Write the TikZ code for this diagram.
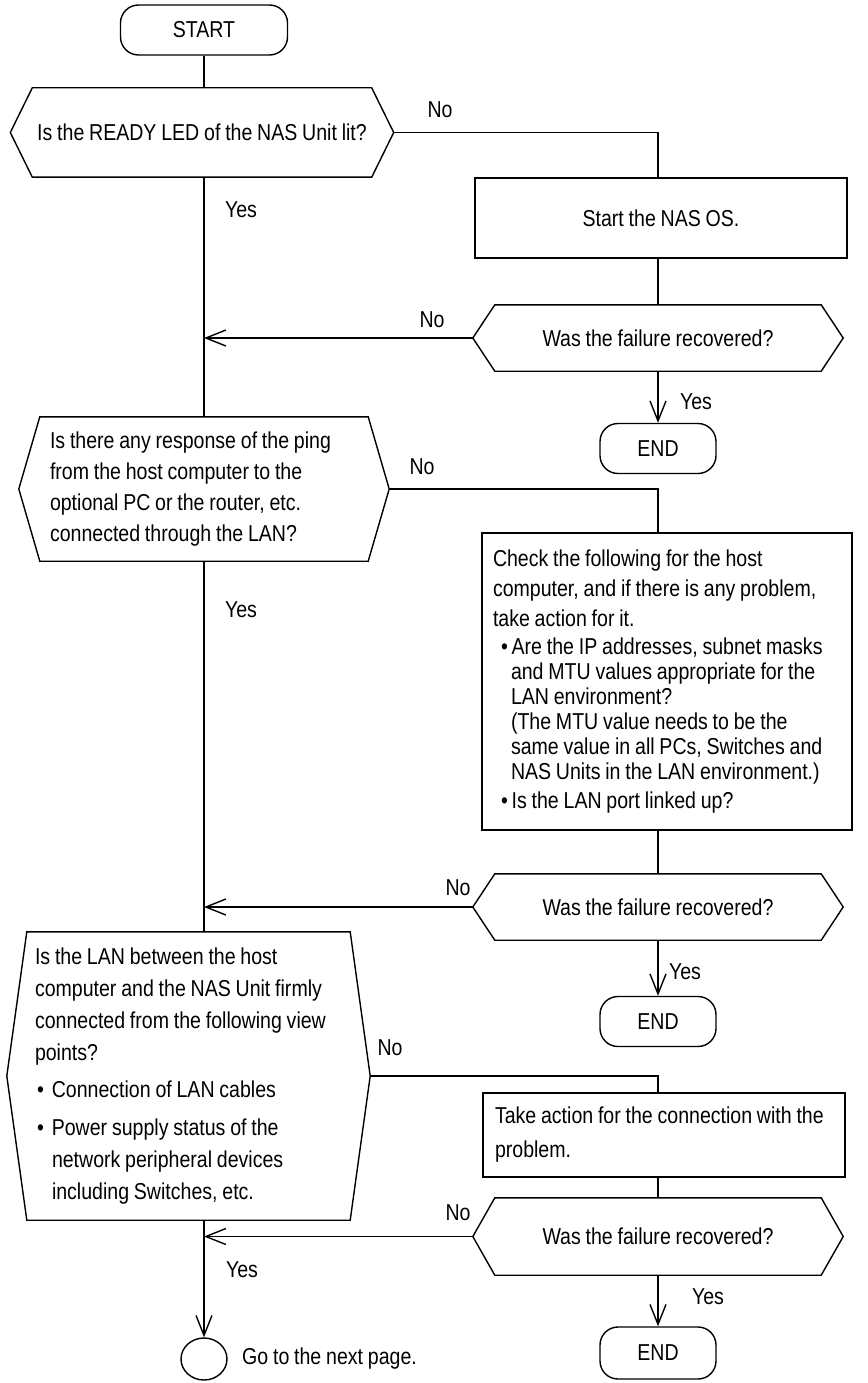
\documentclass[tikz,border=0pt]{standalone}
\usepackage{fontspec}
\setmainfont{Liberation Sans}[FakeStretch=0.85]
\usetikzlibrary{arrows.meta,shapes.geometric}

% node font: size 23pt, baseline skip #1
\newcommand{\chartfont}[1]{\fontsize{23pt}{#1}\selectfont\spaceskip=4.8pt plus 1pt minus 1pt\xspaceskip=4.8pt\relax}

\tikzset{
    line/.style={line width=1.4pt},
    arr/.style={line, -{Straight Barb[length=20pt,width=16pt]}},
    every node/.style={font=\chartfont{26pt}},
    terminal/.style={draw, line width=1.4pt, rectangle, rounded corners=18pt,
        minimum width=116pt, minimum height=50pt},
    process/.style={draw, line width=1.4pt, rectangle},
    decision/.style={rectangle, inner ysep=0pt},
    lab/.style={inner sep=0pt},
}

% hexagon round a decision node: name, inset of the top corners
\newcommand{\hexframe}[2]{%
    \draw[line] (#1.west) -- ([xshift=#2]#1.north west) -- ([xshift=-#2]#1.north east)
        -- (#1.east) -- ([xshift=-#2]#1.south east) -- ([xshift=#2]#1.south west) -- cycle;}

\begin{document}
\begin{tikzpicture}[x=1pt, y=-1pt]
    \useasboundingbox (0,0) rectangle (867,1383);

    \node[terminal, minimum width=167pt] (start) at (204,30) {START};

    \node[decision, minimum width=383pt, minimum height=89pt] (d1) at (202,132.5)
        {Is the READY LED of the NAS Unit lit?};
    \hexframe{d1}{22pt}

    \node[process, minimum width=372pt, minimum height=80pt] (nasos) at (661,218) {Start the NAS OS.};

    \node[decision, minimum width=370pt, minimum height=66pt] (d2) at (658,338) {Was the failure recovered?};
    \hexframe{d2}{22pt}

    \node[terminal] (end1) at (658,448.5) {END};

    \node[decision, text width=308pt, inner xsep=31pt, minimum height=144pt, align=flush left,
        font=\chartfont{31pt}] (d3) at (204,489)
        {Is there any response of the ping\\from the host computer to the\\optional PC or the router, etc.\\connected through the LAN?};
    \hexframe{d3}{21pt}

    \node[process, text width=348pt, inner xsep=11pt, minimum height=297pt, align=flush left,
        font=\chartfont{25pt}] (check) at (667,681.5)
        {Check the following for the host\\[5pt]
         computer, and if there is any problem,\\[5pt]
         take action for it.\\[3pt]
         \hspace*{8pt}\textbullet\,Are the IP addresses, subnet masks\\
         \hspace*{18pt}and MTU values appropriate for the\\
         \hspace*{18pt}LAN environment?\\
         \hspace*{18pt}(The MTU value needs to be the\\
         \hspace*{18pt}same value in all PCs, Switches and\\
         \hspace*{18pt}NAS Units in the LAN environment.)\\[4pt]
         \hspace*{8pt}\textbullet\,Is the LAN port linked up?};

    \node[decision, minimum width=370pt, minimum height=66pt] (d4) at (658,907) {Was the failure recovered?};
    \hexframe{d4}{22pt}

    \node[terminal] (end2) at (658,1021.5) {END};

    \node[decision, text width=307pt, inner xsep=28pt, minimum height=288pt, align=flush left,
        font=\chartfont{32pt}] (d5) at (188.5,1076)
        {Is the LAN between the host\\
         computer and the NAS Unit firmly\\
         connected from the following view\\
         points?\\[5pt]
         \hspace*{2pt}\textbullet\hspace{8pt}Connection of LAN cables\\[6pt]
         \hspace*{2pt}\textbullet\hspace{8pt}Power supply status of the\\
         \hspace*{17pt}network peripheral devices\\
         \hspace*{17pt}including Switches, etc.};
    \hexframe{d5}{20pt}

    \node[process, text width=338pt, inner xsep=12pt, minimum height=84pt, align=flush left,
        font=\chartfont{34pt}] (take) at (664,1135)
        {\mbox{Take action for the connection with the}\\problem.};

    \node[decision, minimum width=370pt, minimum height=77pt] (d6) at (658,1236.5) {Was the failure recovered?};
    \hexframe{d6}{22pt}

    \node[terminal, minimum height=52pt] (end3) at (658,1353) {END};

    \node[draw, line width=1.4pt, ellipse, minimum width=46pt, minimum height=42pt, inner sep=0pt] (next) at (204,1359) {};
    \node[lab, anchor=west] (goon) at (242,1359) {Go to the next page.};

    % connectors
    \draw[line] (start) -- (start |- d1.north);
    \draw[line] (d1.south -| start) -- (d3);
    \draw[line] (d1.east) -| (d2.north |- nasos.north);
    \draw[line] (nasos.south -| d2.north) -- (d2.north);
    \draw[arr] (d2.west) -- (d2.west -| d3.north);
    \draw[arr] (d2) -- (end1);

    \draw[line] (d3.east) -| (d4.north |- check.north);
    \draw[line] (d3.south) -- (d3.south |- d5.north);
    \draw[line] (check.south -| d4.north) -- (d4.north);
    \draw[arr] (d4.west) -- (d4.west -| d3.south);
    \draw[arr] (d4) -- (end2);

    \draw[line] (d5.east) -| (d6.north |- take.north);
    \draw[line] (take.south -| d6.north) -- (d6.north);
    \draw[arr] (d6.west) -- (d6.west -| next.north);
    \draw[arr] (d6) -- (end3);
    \draw[arr] (d5.south -| next.north) -- (next);

    % branch labels
    \node[lab] (no1) at (440,110) {No};
    \node[lab] (yes1) at (241,210) {Yes};
    \node[lab] (no2) at (432,320) {No};
    \node[lab] (yes2) at (696,402) {Yes};
    \node[lab] (no3) at (422,467) {No};
    \node[lab] (yes3) at (241,610) {Yes};
    \node[lab] (no4) at (458,888) {No};
    \node[lab] (yes4) at (685,972) {Yes};
    \node[lab] (no5) at (390,1048) {No};
    \node[lab] (no6) at (458,1213) {No};
    \node[lab] (yes5) at (242,1270) {Yes};
    \node[lab] (yes6) at (708,1297) {Yes};
\end{tikzpicture}
\end{document}
